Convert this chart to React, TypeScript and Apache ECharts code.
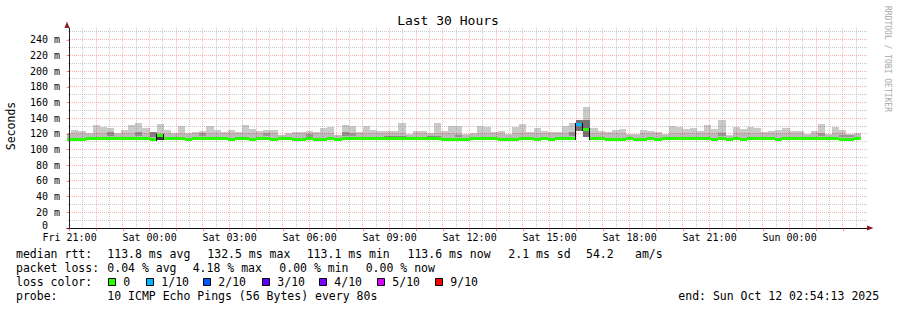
import React, { useEffect, useRef } from 'react';
import * as echarts from 'echarts';

// ---------- data ----------
// x axis: hours relative to Fri 21:00; graph spans Fri 20:54:13 .. Sun 02:54:13
const xMin = -0.0964;
const xMax = 29.9036;
const binStartHour = -0.2; // first 16-minute bin starts Fri 20:48
const binMinutes = 16;

const labelHours = [0, 3, 6, 9, 12, 15, 18, 21, 24, 27];
const timeLabels = ['Fri 21:00', 'Sat 00:00', 'Sat 03:00', 'Sat 06:00', 'Sat 09:00', 'Sat 12:00', 'Sat 15:00', 'Sat 18:00', 'Sat 21:00', 'Sun 00:00'];
const yLabelValues = [0, 20, 40, 60, 80, 100, 120, 140, 160, 180, 200, 220, 240];

// highest ping per 16-min bin (ms)
const smokeTop = [
  121, 125, 124, 121, 131.5, 129, 127.7, 121, 125, 131.5,
  134.5, 127.7, 122.5, 132.8, 125, 121, 130, 121, 122.5, 124,
  130, 125, 122.5, 125, 122.5, 131.5, 126.5, 124, 125, 125,
  119, 121, 122.5, 122.5, 124, 122.5, 127.7, 129, 119, 131.5,
  130, 122.5, 130, 125, 124, 124, 124, 134, 120, 124,
  124, 121, 134, 124, 130, 130, 120, 121, 130, 129,
  122.5, 124, 120, 129, 133, 122.5, 127.7, 124, 122.5, 122.5,
  130, 134, 138, 154.5, 127.7, 124, 122.5, 125, 126.5, 120,
  120, 125, 124, 122.5, 120, 130, 129, 126.5, 127.7, 124,
  131.5, 126.5, 138, 118.6, 129, 126.5, 129, 127.7, 122.5, 124,
  125, 127.7, 124, 124, 120, 124, 133, 120, 129, 125,
  120, 121,
];

// upper edge of the denser (middle) smoke band (ms)
const smokeMid = [
  120, 121, 121, 120, 121.5, 121, 122, 120, 121, 121.5,
  122, 121, 121, 121, 121, 120, 121, 120, 121, 121.5,
  121, 121, 121, 121, 120.5, 121.5, 121, 121, 121.5, 121,
  118, 120, 120.5, 121, 121.5, 121, 121, 121, 118, 122,
  121.5, 121, 121, 121, 120.5, 120.5, 120.5, 121, 119, 121,
  121, 120, 121, 121, 121, 121, 119, 120, 121, 121,
  121, 121, 119, 121, 121.5, 121, 121, 121, 120.5, 121,
  121, 122.5, 124, 124, 121, 121, 121, 121, 121, 119,
  119, 121, 121, 121, 119, 121, 121, 121, 121, 121,
  121.5, 121, 122, 117.5, 121, 121, 121, 121, 121, 121,
  121, 121, 121, 121, 119, 121, 121.5, 119, 121, 121,
  119, 120,
];

// median rtt per bin (ms)
const medianRtt = [
  113.1, 113.2, 113.1, 114.4, 114.3, 114.4, 114.5, 114.4, 114.3, 114.4,
  114.4, 114.5, 113.1, 118.5, 114.4, 114.3, 114.4, 113.2, 114.4, 114.5,
  114.4, 114.3, 114.4, 113.1, 114.4, 114.4, 113.2, 114.3, 114.4, 113.1,
  114.4, 114.5, 113.1, 113.2, 114.4, 113.1, 113.1, 114.4, 113.2, 114.3,
  114.4, 114.4, 114.5, 114.4, 114.3, 114.4, 114.4, 114.5, 114.4, 114.3,
  114.4, 114.4, 114.3, 113.1, 113.2, 113.1, 113.1, 114.4, 114.5, 114.4,
  114.3, 113.1, 113.2, 113.1, 114.4, 114.4, 113.1, 114.3, 113.2, 114.4,
  114.4, 114.5, 132.5, 125.0, 114.4, 114.3, 113.1, 113.2, 113.1, 114.4,
  113.1, 113.2, 114.4, 113.1, 114.4, 114.5, 114.4, 114.3, 114.4, 114.4,
  114.4, 113.1, 114.4, 113.2, 114.4, 113.1, 114.3, 114.4, 114.5, 114.4,
  113.1, 114.4, 114.3, 114.4, 114.4, 114.5, 114.4, 114.3, 114.4, 113.1,
  113.2, 114.4,
];

// lost pings (out of 10) per bin
const lossCount = [
  0, 0, 0, 0, 0, 0, 0, 0, 0, 0,
  0, 0, 0, 0, 0, 0, 0, 0, 0, 0,
  0, 0, 0, 0, 0, 0, 0, 0, 0, 0,
  0, 0, 0, 0, 0, 0, 0, 0, 0, 0,
  0, 0, 0, 0, 0, 0, 0, 0, 0, 0,
  0, 0, 0, 0, 0, 0, 0, 0, 0, 0,
  0, 0, 0, 0, 0, 0, 0, 0, 0, 0,
  0, 0, 1, 0, 0, 0, 0, 0, 0, 0,
  0, 0, 0, 0, 0, 0, 0, 0, 0, 0,
  0, 0, 0, 0, 0, 0, 0, 0, 0, 0,
  0, 0, 0, 0, 0, 0, 0, 0, 0, 0,
  0, 0,
];

// bins whose smoke starts above the median line: [bin, lowest ping ms]
const smokeFloors = [
  [72, 124],
  [73, 116.5],
];

// dense smoke patches: [bin, low ms, high ms, density 0..1]
const denseBands = [
  [6, 117, 122, 0.3], [10, 117, 122.5, 0.3], [12, 116, 122, 0.4], [13, 112.8, 117.5, 0.9],
  [19, 117, 121.5, 0.25], [28, 117, 121.5, 0.25], [34, 116.5, 120, 0.25], [39, 117, 122, 0.3],
  [40, 117, 121, 0.25], [45, 115.5, 117.5, 0.35], [46, 115.5, 117.5, 0.35], [47, 115.5, 117.5, 0.35],
  [51, 115.5, 117.5, 0.35], [52, 115.5, 117.5, 0.35], [55, 116, 118, 0.3], [71, 117, 123, 0.3],
  [72, 124, 138, 0.5], [73, 116.5, 138, 0.5], [92, 117, 121, 0.25], [106, 117, 120.5, 0.25],
  [109, 116, 119, 0.25], [110, 116, 119, 0.25],
];

const lossLegend = [
  { label: '0', color: '#26ff00' },
  { label: '1/10', color: '#00b8ff' },
  { label: '2/10', color: '#0059ff' },
  { label: '3/10', color: '#5e00ff' },
  { label: '4/10', color: '#7e00ff' },
  { label: '5/10', color: '#dd00ff' },
  { label: '9/10', color: '#ff0000' },
];
const lossThresholds = [0, 1, 2, 3, 4, 5, 9];

const medianStats = ['113.8 ms avg', '132.5 ms max', '113.1 ms min', '113.6 ms now', '2.1 ms sd', '54.2', 'am/s'];
const lossStats = ['0.04 % avg', '4.18 % max', '0.00 % min', '0.00 % now'];
const probeText = '10 ICMP Echo Pings (56 Bytes) every 80s';
const endText = 'end: Sun Oct 12 02:54:13 2025';
const titleText = 'Last 30 Hours';

// ---------- styling / layout ----------
const FONT = '"DejaVu Sans Mono", monospace';
const SMOKE_LIGHT = '#cacaca';
const SMOKE_MID = '#bbbbbb';
const MAJOR_GRID = 'rgba(255,0,0,0.3)';
const MINOR_GRID = 'rgba(128,128,128,0.42)';
const ARROW = '#8b1c1c';

function lossColor(n: number) {
  let c = lossLegend[0].color;
  lossThresholds.forEach((t, k) => { if (n >= t) c = lossLegend[k].color; });
  return c;
}

function binRange(i: number) {
  const s = binStartHour + (i * binMinutes) / 60;
  return [s, s + binMinutes / 60];
}

function buildOption() {
  const floorMap: Record<number, number> = {};
  smokeFloors.forEach(([b, v]) => { floorMap[b] = v; });
  const denseMap: Record<number, number[]> = {};
  denseBands.forEach(([b, lo, hi, lv]) => { denseMap[b] = [lo, hi, lv]; });

  const smokeData = smokeTop.map((top, i) => {
    const [s, e] = binRange(i);
    const low = floorMap[i] !== undefined ? floorMap[i] : medianRtt[i];
    const d = denseMap[i] || [0, 0, 0];
    return [s, e, low, smokeMid[i], top, d[0], d[1], d[2]];
  });
  const medianData = medianRtt.map((m, i) => {
    const [s, e] = binRange(i);
    return [s, e, m, lossCount[i]];
  });

  // grid lines: [kind(0=vertical,1=horizontal), value, major]
  const gridData: number[][] = [];
  for (let h = 0; h <= 29.5; h += 0.5) gridData.push([0, h, h % 1 === 0 ? 1 : 0]);
  for (let v = 10; v <= 250; v += 10) gridData.push([1, v, v % 20 === 0 ? 1 : 0]);

  const clipX = (params: any, api: any, t0: number, t1: number) => {
    const cs = params.coordSys;
    const left = Math.round(Math.max(api.coord([t0, 0])[0], cs.x));
    const right = Math.round(Math.min(api.coord([t1, 0])[0], cs.x + cs.width));
    return [left, right];
  };

  const renderSmoke = (params: any, api: any) => {
    const t0 = api.value(0), t1 = api.value(1);
    const [left, right] = clipX(params, api, t0, t1);
    if (right <= left) return null;
    const w = right - left;
    const py = (v: number) => Math.round(api.coord([t0, v])[1]);
    const band = (lo: number, hi: number, fill: string) => ({
      type: 'rect',
      shape: { x: left, y: py(hi), width: w, height: Math.max(0, py(lo) - py(hi)) },
      style: { fill },
      silent: true,
    });
    const low = api.value(2), mid = api.value(3), top = api.value(4);
    const children: any[] = [band(low, top, SMOKE_LIGHT)];
    if (mid > low) children.push(band(low, mid, SMOKE_MID));
    const dl = api.value(5), dh = api.value(6), lv = api.value(7);
    if (dh > dl) {
      const g = Math.round(190 - 150 * lv);
      children.push(band(dl, dh, `rgb(${g},${g},${g})`));
    }
    return { type: 'group', children };
  };

  const renderMedian = (params: any, api: any) => {
    const i = params.dataIndex;
    const t0 = api.value(0), t1 = api.value(1);
    const [left, right] = clipX(params, api, t0, t1);
    if (right <= left) return null;
    const m = api.value(2);
    const yc = api.coord([t0, m])[1];
    const children: any[] = [];
    if (i > 0 && Math.abs(medianRtt[i - 1] - m) > 3) {
      const ya = api.coord([t0, medianRtt[i - 1]])[1];
      const y1 = Math.round(Math.min(ya, yc) - 1.5);
      const y2 = Math.round(Math.max(ya, yc) + 1.5);
      children.push({ type: 'rect', shape: { x: left - 1, y: y1, width: 1, height: y2 - y1 }, style: { fill: '#000' }, silent: true });
    }
    children.push({
      type: 'rect',
      shape: { x: left, y: Math.round(yc - 1.5), width: right - left, height: 3 },
      style: { fill: lossColor(api.value(3)) },
      silent: true,
    });
    return { type: 'group', children };
  };

  const renderGrid = (params: any, api: any) => {
    const cs = params.coordSys;
    const kind = api.value(0), v = api.value(1), major = api.value(2);
    const style = { stroke: major ? MAJOR_GRID : MINOR_GRID, lineWidth: 1, lineDash: [1, 1] };
    if (kind === 0) {
      const x = Math.floor(api.coord([v, 0])[0]) + 0.5;
      return { type: 'line', shape: { x1: x, y1: cs.y + cs.height - 1, x2: x, y2: cs.y }, style, silent: true };
    }
    const y = Math.floor(api.coord([xMin, v])[1]) + 0.5;
    return { type: 'line', shape: { x1: cs.x + 1, y1: y, x2: cs.x + cs.width, y2: y }, style, silent: true };
  };

  const txt = (text: string, x: number, y: number, extra: any = {}) => ({
    type: 'text',
    x,
    y,
    silent: true,
    style: { text, fill: '#000', font: `11.5px ${FONT}`, align: 'left', verticalAlign: 'middle', ...extra },
  });

  const graphics: any[] = [];
  graphics.push(txt(titleText, 448, 20, { font: `13px ${FONT}`, align: 'center' }));
  graphics.push({ ...txt('Seconds', 11, 126, { align: 'center' }), rotation: Math.PI / 2 });
  graphics.push({ ...txt('RRDTOOL / TOBI OETIKER', 887, 59, { align: 'center', font: `8px ${FONT}`, fill: '#a8a8a8' }), rotation: -Math.PI / 2 });

  const row1 = 254.3, row2 = 268.3, row3 = 282.3, row4 = 296.3;
  graphics.push(txt('median rtt:', 16, row1));
  [107.3, 207.3, 306.7, 407.5, 508.3, 586, 635].forEach((x, k) => graphics.push(txt(medianStats[k], x, row1)));
  graphics.push(txt('packet loss:', 16, row2));
  [107.3, 192.7, 279.3, 365.7].forEach((x, k) => graphics.push(txt(lossStats[k], x, row2)));
  graphics.push(txt('loss color:', 16, row3));
  [108, 146, 203, 262, 319, 377, 435].forEach((x, k) => {
    graphics.push({
      type: 'rect',
      silent: true,
      shape: { x: x + 0.5, y: 278.5, width: 7, height: 7 },
      style: { fill: lossLegend[k].color, stroke: '#000', lineWidth: 1 },
    });
    graphics.push(txt(lossLegend[k].label, x + 15.3, row3));
  });
  graphics.push(txt('probe:', 16, row4));
  graphics.push(txt(probeText, 107.3, row4));
  graphics.push(txt(endText, 678.3, row4));

  // axis arrows
  graphics.push({ type: 'polygon', silent: true, shape: { points: [[64.5, 28], [69.5, 28], [67, 21.5]] }, style: { fill: ARROW } });
  graphics.push({ type: 'polygon', silent: true, shape: { points: [[867, 225.5], [867, 230.5], [873.5, 228]] }, style: { fill: ARROW } });

  return {
    animation: false,
    backgroundColor: '#ffffff',
    grid: { left: 67, right: 30, top: 28, bottom: 82, containLabel: false },
    xAxis: {
      type: 'value',
      min: xMin,
      max: xMax,
      z: 10,
      splitLine: { show: false },
      axisLine: { show: true, lineStyle: { color: '#111', width: 1 } },
      axisTick: {
        show: true,
        length: 3,
        customValues: Array.from({ length: 30 }, (_, k) => k),
        lineStyle: { color: 'rgba(255,0,0,0.45)' },
      },
      axisLabel: {
        customValues: labelHours,
        margin: 4,
        fontFamily: FONT,
        fontSize: 10,
        color: '#000',
        formatter: (v: number) => {
          const k = labelHours.indexOf(Math.round(v));
          return k >= 0 ? timeLabels[k] : '';
        },
      },
    },
    yAxis: {
      type: 'value',
      min: 0,
      max: 255,
      z: 10,
      splitLine: { show: false },
      axisLine: { show: true, lineStyle: { color: '#222', width: 1 } },
      axisTick: { show: true, length: 3, customValues: yLabelValues, lineStyle: { color: 'rgba(255,0,0,0.45)' } },
      axisLabel: {
        customValues: yLabelValues,
        margin: 7,
        fontFamily: FONT,
        fontSize: 10,
        color: '#000',
        formatter: (v: number) => (v === 0 ? '{zero|0\u00a0\u00a0}' : `${v} m`),
        rich: {
          zero: { fontFamily: FONT, fontSize: 10, color: '#000', padding: [0, 0, 5, 0] },
        },
      },
    },
    series: [
      { type: 'custom', name: 'smoke', z: 2, renderItem: renderSmoke, data: smokeData, silent: true },
      { type: 'custom', name: 'grid', z: 3, renderItem: renderGrid, data: gridData, silent: true },
      { type: 'custom', name: 'median', z: 4, renderItem: renderMedian, data: medianData, silent: true },
    ],
    graphic: graphics,
  };
}

export default function App() {
  const ref = useRef<HTMLDivElement>(null);
  useEffect(() => {
    if (!ref.current) return;
    const chart = echarts.init(ref.current, null, { renderer: 'svg' });
    chart.setOption(buildOption() as any);
    return () => chart.dispose();
  }, []);
  return <div ref={ref} style={{ position: 'absolute', left: 0, top: 0, width: 897, height: 310 }} />;
}
